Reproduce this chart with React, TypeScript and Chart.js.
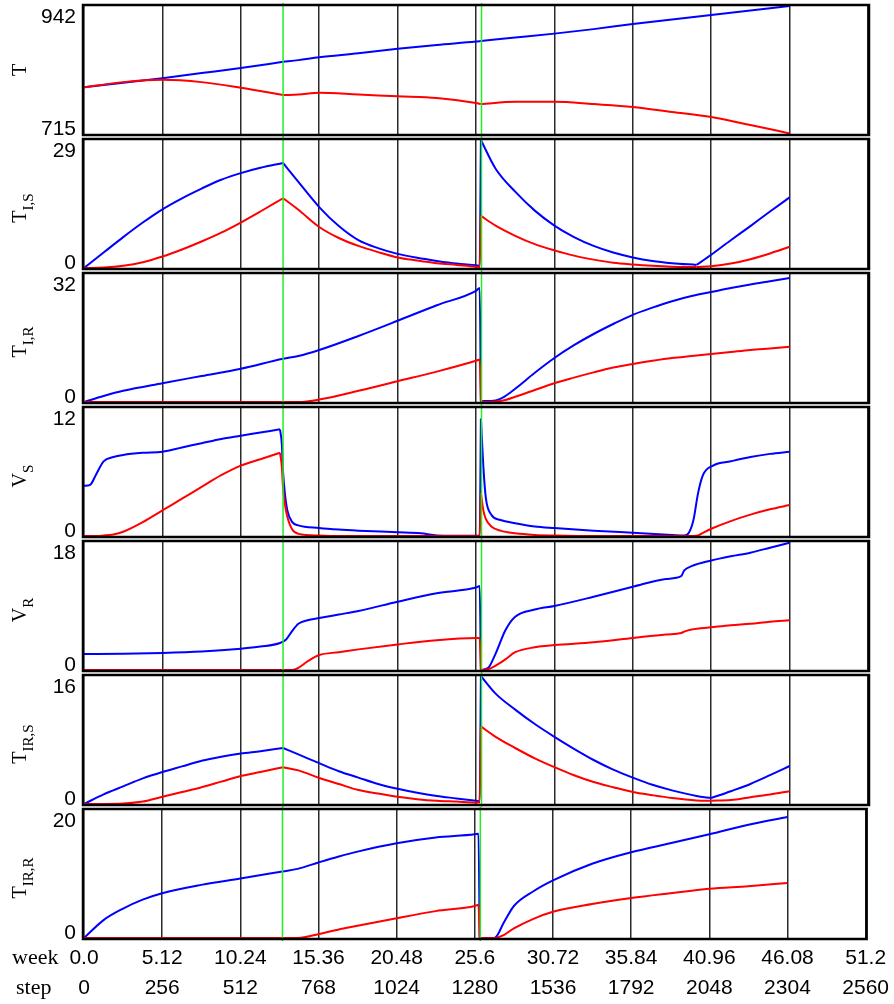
import { useEffect, useRef } from "react";
import { Chart, registerables } from "chart.js";

Chart.register(...registerables);

// ---------- tick labels ----------
const weekTicks = ["0.0", "5.12", "10.24", "15.36", "20.48", "25.6", "30.72", "35.84", "40.96", "46.08", "51.2"];
const stepTicks = ["0", "256", "512", "768", "1024", "1280", "1536", "1792", "2048", "2304", "2560"];
const greenSteps = [650, 1298];

// ---------- panel 1: T ----------
const tSteps = [0, 128, 256, 384, 512, 650, 700, 768, 896, 1024, 1152, 1280, 1296, 1408, 1536, 1664, 1792, 1920, 2048, 2176, 2304];
const tBlue = [798, 806, 814, 823, 832, 843, 846, 851, 858, 866, 873, 879, 880, 886, 893, 901, 910, 918, 926, 934, 942];
const tRed = [798, 807, 811, 807, 797, 784, 785, 788, 785, 782, 779, 770, 768, 772, 772, 768, 763, 754, 745, 731, 716];
const tBreaks = [650, 1296];

// ---------- panel 2: T_I,S ----------
const tisSteps = [0, 64, 128, 192, 256, 320, 384, 448, 512, 576, 650, 700, 768, 832, 896, 960, 1024, 1088, 1152, 1216, 1280, 1292, 1296, 1344, 1408, 1472, 1536, 1600, 1664, 1728, 1792, 1856, 1920, 2000, 2048, 2112, 2176, 2240, 2304];
const tisBlue = [0, 3.5, 7, 10.3, 13.3, 15.8, 18, 20, 21.5, 22.7, 23.8, 19.5, 13.8, 9.5, 6.3, 4.5, 3.2, 2.3, 1.6, 1.0, 0.6, 0.5, 29, 22.5, 17.3, 13, 9.6, 7.0, 5.0, 3.5, 2.4, 1.6, 1.1, 0.7, 3, 6.3, 9.5, 12.8, 16];
const tisRed = [0, 0.1, 0.5, 1.3, 2.6, 4.2, 6.0, 8.0, 10.3, 12.8, 15.8, 13.2, 9.3, 6.8, 5.0, 3.6, 2.4, 1.7, 1.1, 0.7, 0.3, 0.2, 11.8, 9.6, 7.3, 5.4, 4.0, 2.8, 1.9, 1.2, 0.8, 0.5, 0.3, 0.2, 0.4, 1.0, 2.0, 3.3, 4.8];
const tisBreaks = [650, 1296, 2000];

// ---------- panel 3: T_I,R ----------
const tirSteps = [0, 64, 128, 256, 384, 512, 650, 700, 768, 896, 1024, 1152, 1280, 1292, 1296, 1344, 1376, 1408, 1472, 1536, 1600, 1664, 1728, 1792, 1856, 1920, 1984, 2048, 2112, 2176, 2240, 2304];
const tirBlue = [0, 1.5, 2.8, 4.7, 6.5, 8.3, 10.8, 11.5, 13, 16.5, 20.3, 24.2, 27.8, 28.5, 0.2, 0.4, 1.5, 3.3, 7.3, 11, 14.2, 17, 19.5, 21.8, 23.6, 25.2, 26.5, 27.5, 28.5, 29.4, 30.2, 31];
const tirRed = [0, 0, 0, 0, 0, 0, 0, 0, 0.6, 2.8, 5.2, 7.6, 10.3, 10.6, 0, 0.1, 0.5, 1.3, 3.0, 4.7, 6.1, 7.4, 8.6, 9.5, 10.3, 11, 11.5, 12, 12.5, 13, 13.4, 13.8];
const tirBreaks = [1296];

// ---------- panel 4: V_S ----------
const vsSteps = [0, 20, 40, 64, 96, 128, 192, 256, 320, 384, 448, 512, 576, 640, 646, 650, 656, 664, 680, 700, 768, 832, 896, 1024, 1100, 1152, 1280, 1292, 1296, 1304, 1312, 1330, 1360, 1408, 1472, 1536, 1664, 1792, 1920, 1960, 1975, 1990, 2005, 2021, 2054, 2112, 2176, 2240, 2304];
const vsBlue = [4.7, 4.8, 5.8, 7.0, 7.4, 7.6, 7.8, 7.9, 8.3, 8.7, 9.1, 9.4, 9.7, 10.0, 8.6, 6.0, 4.0, 2.4, 1.3, 1.0, 0.75, 0.6, 0.5, 0.35, 0.25, 0.05, 0.02, 0.02, 11, 6.5, 3.6, 2.0, 1.5, 1.2, 0.9, 0.75, 0.5, 0.3, 0.1, 0.05, 0.3, 1.5, 4.0, 5.7, 6.6, 7.0, 7.4, 7.7, 7.9];
const vsRed = [0, 0, 0, 0.05, 0.15, 0.4, 1.3, 2.4, 3.5, 4.6, 5.7, 6.6, 7.2, 7.8, 6.5, 4.5, 3.0, 1.8, 0.6, 0.2, 0.05, 0, 0, 0, 0, 0, 0, 0, 4.0, 2.4, 1.6, 0.9, 0.5, 0.25, 0.1, 0.05, 0, 0, 0, 0, 0, 0, 0.05, 0.3, 0.75, 1.4, 2.0, 2.5, 2.9];
const vsBreaks = [640, 1296];

// ---------- panel 5: V_R ----------
const vrSteps = [0, 128, 256, 384, 512, 576, 640, 660, 680, 700, 730, 768, 832, 896, 1024, 1152, 1280, 1292, 1296, 1320, 1344, 1376, 1408, 1472, 1536, 1664, 1792, 1900, 1950, 1960, 1984, 2048, 2112, 2176, 2240, 2304];
const vrBlue = [2.25, 2.3, 2.4, 2.6, 3.0, 3.3, 3.8, 4.3, 5.5, 6.5, 7.0, 7.3, 7.8, 8.3, 9.6, 10.8, 11.6, 11.8, 0, 0.3, 2.3, 5.6, 7.5, 8.5, 9.0, 10.3, 11.7, 12.8, 13.2, 14.0, 14.6, 15.4, 16.0, 16.5, 17.2, 17.9];
const vrRed = [0, 0, 0, 0, 0, 0, 0, 0, 0, 0.3, 1.2, 2.1, 2.5, 2.9, 3.6, 4.2, 4.5, 4.5, 0, 0.1, 0.6, 1.5, 2.5, 3.2, 3.5, 3.9, 4.5, 5.0, 5.2, 5.4, 5.7, 6.0, 6.3, 6.5, 6.8, 7.0];
const vrBreaks = [1296];

// ---------- panel 6: T_IR,S ----------
const tirsSteps = [0, 64, 128, 192, 256, 320, 384, 448, 512, 576, 650, 700, 768, 832, 896, 960, 1024, 1088, 1152, 1216, 1280, 1292, 1296, 1344, 1408, 1472, 1536, 1600, 1664, 1728, 1792, 1856, 1920, 2000, 2048, 2112, 2176, 2240, 2304];
const tirsBlue = [0, 1.2, 2.2, 3.2, 4.0, 4.7, 5.4, 5.9, 6.3, 6.6, 7.0, 6.2, 5.1, 4.1, 3.3, 2.5, 1.9, 1.4, 1.0, 0.7, 0.4, 0.35, 16, 13.8, 11.8, 10.0, 8.4, 6.9, 5.5, 4.3, 3.3, 2.4, 1.7, 1.0, 0.75, 1.6, 2.5, 3.6, 4.75];
const tirsRed = [0, 0, 0.05, 0.3, 0.9, 1.5, 2.1, 2.8, 3.5, 4.0, 4.6, 4.2, 3.25, 2.5, 1.75, 1.3, 0.9, 0.6, 0.4, 0.3, 0.2, 0.2, 9.7, 8.4, 7.0, 5.7, 4.6, 3.6, 2.75, 2.1, 1.5, 1.1, 0.75, 0.45, 0.4, 0.5, 0.85, 1.2, 1.6];
const tirsBreaks = [650, 1296, 2048];

// ---------- panel 7: T_IR,R ----------
const tirrSteps = [0, 64, 128, 192, 256, 384, 512, 650, 700, 768, 832, 896, 1024, 1152, 1280, 1292, 1296, 1344, 1376, 1408, 1472, 1536, 1664, 1792, 1920, 2048, 2176, 2304];
const tirrBlue = [0, 2.8, 4.6, 6.0, 7.0, 8.3, 9.3, 10.4, 10.8, 11.8, 12.7, 13.5, 14.8, 15.7, 16.2, 16.3, 0, 0, 2.5, 5.0, 7.3, 9.0, 11.6, 13.4, 14.8, 16.2, 17.7, 18.9];
const tirrRed = [0, 0, 0, 0, 0, 0, 0, 0, 0, 0.6, 1.3, 1.9, 3.1, 4.2, 5.0, 5.2, 0, 0, 0.5, 1.5, 3.0, 4.1, 5.3, 6.25, 7.0, 7.7, 8.1, 8.6];
const tirrBreaks = [1296];

type PanelDef = {
  title: string;
  sub: string;
  yMin: number;
  yMax: number;
  minLabel: string;
  maxLabel: string;
  steps: number[];
  blue: number[];
  red: number[];
  breaks: number[];
};

const panels: PanelDef[] = [
  { title: "T", sub: "", yMin: 715, yMax: 942, minLabel: "715", maxLabel: "942", steps: tSteps, blue: tBlue, red: tRed, breaks: tBreaks },
  { title: "T", sub: "I,S", yMin: 0, yMax: 29, minLabel: "0", maxLabel: "29", steps: tisSteps, blue: tisBlue, red: tisRed, breaks: tisBreaks },
  { title: "T", sub: "I,R", yMin: 0, yMax: 32, minLabel: "0", maxLabel: "32", steps: tirSteps, blue: tirBlue, red: tirRed, breaks: tirBreaks },
  { title: "V", sub: "S", yMin: 0, yMax: 12, minLabel: "0", maxLabel: "12", steps: vsSteps, blue: vsBlue, red: vsRed, breaks: vsBreaks },
  { title: "V", sub: "R", yMin: 0, yMax: 18, minLabel: "0", maxLabel: "18", steps: vrSteps, blue: vrBlue, red: vrRed, breaks: vrBreaks },
  { title: "T", sub: "IR,S", yMin: 0, yMax: 16, minLabel: "0", maxLabel: "16", steps: tirsSteps, blue: tirsBlue, red: tirsRed, breaks: tirsBreaks },
  { title: "T", sub: "IR,R", yMin: 0, yMax: 20, minLabel: "0", maxLabel: "20", steps: tirrSteps, blue: tirrBlue, red: tirrRed, breaks: tirrBreaks },
];

const W = 894;
const H = 1004;
const LEFT = 84;
const RIGHT = 868;
const FIRST_TOP = 6;
const PITCH = 134;
const PANEL_H = 128;
const PAD = 6;
const XAXIS_H = 66;

const SANS = '"Liberation Sans", Arial, sans-serif';
const SERIF = '"Liberation Serif", "Times New Roman", serif';

// split one series into pieces at the break steps (the break point is shared)
function splitSeries(steps: number[], values: number[], breaks: number[]) {
  const pieces: { x: number; y: number }[][] = [];
  let cur: { x: number; y: number }[] = [];
  steps.forEach((s, k) => {
    const pt = { x: s, y: values[k] };
    cur.push(pt);
    if (breaks.includes(s) && k < steps.length - 1) {
      pieces.push(cur);
      cur = [pt];
    }
  });
  if (cur.length) pieces.push(cur);
  return pieces;
}

function makePlugin(def: PanelDef, last: boolean) {
  return {
    id: "panelDecor",
    afterDatasetsDraw(chart: any) {
      const ctx = chart.ctx as CanvasRenderingContext2D;
      const ca = chart.chartArea;
      const xs = chart.scales.x;
      ctx.save();
      ctx.strokeStyle = "#22ee22";
      ctx.lineWidth = 1.5;
      for (const g of greenSteps) {
        const px = xs.getPixelForValue(g);
        ctx.beginPath();
        ctx.moveTo(px, ca.top - 3);
        ctx.lineTo(px, ca.bottom + 3);
        ctx.stroke();
      }
      ctx.restore();
    },
    afterDraw(chart: any) {
      const ctx = chart.ctx as CanvasRenderingContext2D;
      const ca = chart.chartArea;
      const ys = chart.scales.y;
      ctx.save();
      ctx.strokeStyle = "#000";
      ctx.lineWidth = 2.5;
      ctx.strokeRect(ca.left - 1, ca.top - 1, ca.right - ca.left + 2, ca.bottom - ca.top + 2);

      ctx.fillStyle = "#000";
      ctx.font = `21px ${SANS}`;
      ctx.textAlign = "right";
      ctx.textBaseline = "alphabetic";
      const yTop = ys.getPixelForValue(def.yMax);
      const yBot = ys.getPixelForValue(def.yMin);
      ctx.fillText(def.maxLabel, 76, yTop + 17);
      ctx.fillText(def.minLabel, 76, yBot + 1);

      const cy = (ca.top + ca.bottom) / 2;
      ctx.font = `20px ${SERIF}`;
      const wMain = ctx.measureText(def.title).width;
      ctx.font = `15px ${SERIF}`;
      const wSub = def.sub ? ctx.measureText(def.sub).width : 0;
      const total = wMain + wSub;
      const offset = def.sub ? 4 : 0;
      ctx.translate(26, cy + offset);
      ctx.rotate(-Math.PI / 2);
      ctx.textAlign = "left";
      ctx.textBaseline = "alphabetic";
      ctx.font = `20px ${SERIF}`;
      ctx.fillText(def.title, -total / 2, 0);
      if (def.sub) {
        ctx.font = `15px ${SERIF}`;
        ctx.fillText(def.sub, -total / 2 + wMain, 7);
      }
      ctx.restore();

      if (last) {
        ctx.save();
        ctx.fillStyle = "#000";
        ctx.font = `22px ${SERIF}`;
        ctx.textAlign = "left";
        ctx.textBaseline = "middle";
        ctx.fillText("week", 12, ca.bottom + 20);
        ctx.fillText("step", 16, ca.bottom + 50);
        ctx.restore();
      }
    },
  };
}

function Panel({ def, index }: { def: PanelDef; index: number }) {
  const ref = useRef<HTMLCanvasElement | null>(null);
  const last = index === panels.length - 1;
  const top = FIRST_TOP + PITCH * index - PAD;
  const height = last ? H - top : PANEL_H + PAD * 2;

  useEffect(() => {
    const canvas = ref.current;
    if (!canvas) return;
    const mk = (pts: { x: number; y: number }[], color: string) => ({
      data: pts,
      borderColor: color,
      borderWidth: 2,
      pointRadius: 0,
      cubicInterpolationMode: "monotone",
      fill: false,
    });
    const redSets = splitSeries(def.steps, def.red, def.breaks).map((p) => mk(p, "#ff0000"));
    const blueSets = splitSeries(def.steps, def.blue, def.breaks).map((p) => mk(p, "#0000ff"));
    const chart = new Chart(canvas, {
      type: "line",
      data: { datasets: [...redSets, ...blueSets] },
      options: {
        animation: false,
        responsive: false,
        maintainAspectRatio: false,
        events: [],
        layout: { padding: { left: LEFT, right: W - RIGHT, top: PAD, bottom: last ? 0 : PAD } },
        plugins: { legend: { display: false }, tooltip: { enabled: false } },
        scales: {
          x: {
            type: "linear",
            min: 0,
            max: 2560,
            afterBuildTicks: (scale: any) => {
              scale.ticks = stepTicks.map((s) => ({ value: Number(s) }));
            },
            afterFit: (scale: any) => {
              scale.height = last ? XAXIS_H : 0;
            },
            ticks: {
              display: last,
              autoSkip: false,
              maxRotation: 0,
              minRotation: 0,
              padding: 5,
              color: "#000",
              font: { family: SANS, size: 21, lineHeight: 1.43 },
              callback: (value: any) => {
                const i = stepTicks.indexOf(String(value));
                return i >= 0 ? [weekTicks[i], stepTicks[i]] : "";
              },
            },
            grid: { color: "#2a2a2a", lineWidth: 1.5, drawTicks: false },
            border: { display: false },
          },
          y: {
            type: "linear",
            min: def.yMin,
            max: def.yMax,
            display: false,
          },
        },
      },
      plugins: [makePlugin(def, last)],
    } as any);
    return () => chart.destroy();
  }, []);

  return (
    <canvas
      ref={ref}
      width={W}
      height={height}
      style={{ position: "absolute", left: 0, top, width: W, height, display: "block" }}
    />
  );
}

export default function App() {
  return (
    <div style={{ position: "absolute", left: 0, top: 0, width: W, height: H, background: "#fff", overflow: "hidden" }}>
      {panels.map((p, i) => (
        <Panel key={i} def={p} index={i} />
      ))}
    </div>
  );
}
